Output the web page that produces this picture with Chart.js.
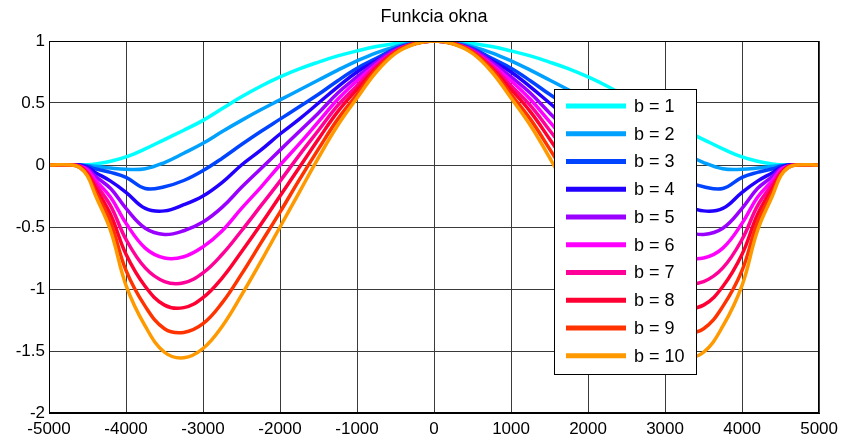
<!DOCTYPE html>
<html>
<head>
<meta charset="utf-8">
<script src="https://cdn.jsdelivr.net/npm/chart.js@4.4.0/dist/chart.umd.min.js"></script>
<style>
  html, body { margin: 0; padding: 0; background: #fff; }
  canvas { display: block; }
</style>
</head>
<body>
<canvas id="okno" width="844" height="443"></canvas>
<script>
// x positions of the read samples
var xValues = [-5000, -4700, -4600, -4500, -4400, -4200, -4000, -3750, -3500, -3250, -3000, -2750, -2500, -2250, -2000, -1750, -1500, -1250, -1000, -750, -500, -250, 0,
  250, 500, 750, 1000, 1250, 1500, 1750, 2000, 2250, 2500, 2750, 3000, 3250, 3500, 3750, 4000, 4200, 4400, 4500, 4600, 4700, 5000];

// values, one array per curve
var b1 = [0, 0, 0, 0.002, 0.008, 0.03, 0.065, 0.13, 0.205, 0.28, 0.36, 0.455, 0.55, 0.635, 0.71, 0.775, 0.83, 0.88, 0.92, 0.955, 0.98, 0.995, 1,
  0.995, 0.98, 0.955, 0.92, 0.88, 0.83, 0.775, 0.71, 0.635, 0.55, 0.455, 0.36, 0.28, 0.205, 0.13, 0.065, 0.03, 0.008, 0.002, 0, 0, 0];
var b2 = [0, 0, 0, -0.003, -0.01, -0.025, -0.035, -0.03, 0.02, 0.095, 0.175, 0.27, 0.36, 0.445, 0.525, 0.605, 0.685, 0.765, 0.84, 0.905, 0.955, 0.99, 1,
  0.99, 0.955, 0.905, 0.84, 0.765, 0.685, 0.605, 0.525, 0.445, 0.36, 0.27, 0.175, 0.095, 0.02, -0.03, -0.035, -0.025, -0.01, -0.003, 0, 0, 0];
var b3 = [0, 0, 0, -0.01, -0.03, -0.06, -0.10, -0.19, -0.175, -0.125, -0.045, 0.055, 0.165, 0.27, 0.37, 0.47, 0.57, 0.68, 0.78, 0.86, 0.94, 0.985, 1,
  0.985, 0.94, 0.86, 0.78, 0.68, 0.57, 0.47, 0.37, 0.27, 0.165, 0.055, -0.045, -0.125, -0.175, -0.19, -0.10, -0.06, -0.03, -0.01, 0, 0, 0];
var b4 = [0, 0, 0, -0.02, -0.06, -0.13, -0.22, -0.35, -0.37, -0.32, -0.25, -0.14, 0.0, 0.12, 0.25, 0.37, 0.50, 0.63, 0.75, 0.84, 0.93, 0.98, 1,
  0.98, 0.93, 0.84, 0.75, 0.63, 0.50, 0.37, 0.25, 0.12, 0.0, -0.14, -0.25, -0.32, -0.37, -0.35, -0.22, -0.13, -0.06, -0.02, 0, 0, 0];
var b5 = [0, 0, -0.01, -0.03, -0.09, -0.19, -0.35, -0.51, -0.56, -0.53, -0.46, -0.34, -0.18, -0.03, 0.12, 0.27, 0.42, 0.58, 0.71, 0.83, 0.93, 0.98, 1,
  0.98, 0.93, 0.83, 0.71, 0.58, 0.42, 0.27, 0.12, -0.03, -0.18, -0.34, -0.46, -0.53, -0.56, -0.51, -0.35, -0.19, -0.09, -0.03, -0.01, 0, 0];
var b6 = [0, 0, -0.01, -0.04, -0.12, -0.26, -0.47, -0.67, -0.75, -0.74, -0.66, -0.53, -0.35, -0.18, 0.0, 0.17, 0.35, 0.53, 0.68, 0.81, 0.92, 0.98, 1,
  0.98, 0.92, 0.81, 0.68, 0.53, 0.35, 0.17, 0.0, -0.18, -0.35, -0.53, -0.66, -0.74, -0.75, -0.67, -0.47, -0.26, -0.12, -0.04, -0.01, 0, 0];
var b7 = [0, 0, -0.01, -0.06, -0.15, -0.33, -0.60, -0.83, -0.94, -0.95, -0.87, -0.72, -0.53, -0.33, -0.13, 0.08, 0.28, 0.48, 0.64, 0.80, 0.92, 0.98, 1,
  0.98, 0.92, 0.80, 0.64, 0.48, 0.28, 0.08, -0.13, -0.33, -0.53, -0.72, -0.87, -0.95, -0.94, -0.83, -0.60, -0.33, -0.15, -0.06, -0.01, 0, 0];
var b8 = [0, 0, -0.01, -0.07, -0.18, -0.40, -0.72, -0.98, -1.13, -1.15, -1.07, -0.91, -0.70, -0.48, -0.25, -0.02, 0.21, 0.43, 0.61, 0.78, 0.91, 0.98, 1,
  0.98, 0.91, 0.78, 0.61, 0.43, 0.21, -0.02, -0.25, -0.48, -0.70, -0.91, -1.07, -1.15, -1.13, -0.98, -0.72, -0.40, -0.18, -0.07, -0.01, 0, 0];
var b9 = [0, 0, -0.02, -0.08, -0.21, -0.46, -0.85, -1.14, -1.32, -1.35, -1.28, -1.11, -0.88, -0.63, -0.38, -0.12, 0.13, 0.37, 0.57, 0.77, 0.91, 0.98, 1,
  0.98, 0.91, 0.77, 0.57, 0.37, 0.13, -0.12, -0.38, -0.63, -0.88, -1.11, -1.28, -1.35, -1.32, -1.14, -0.85, -0.46, -0.21, -0.08, -0.02, 0, 0];
var b10 = [0, 0, -0.02, -0.09, -0.24, -0.53, -0.97, -1.30, -1.51, -1.555, -1.48, -1.30, -1.05, -0.78, -0.50, -0.22, 0.06, 0.32, 0.54, 0.75, 0.90, 0.975, 1,
  0.975, 0.90, 0.75, 0.54, 0.32, 0.06, -0.22, -0.50, -0.78, -1.05, -1.30, -1.48, -1.555, -1.51, -1.30, -0.97, -0.53, -0.24, -0.09, -0.02, 0, 0];

var series = [b1, b2, b3, b4, b5, b6, b7, b8, b9, b10];
var seriesLabels = ['b = 1', 'b = 2', 'b = 3', 'b = 4', 'b = 5', 'b = 6', 'b = 7', 'b = 8', 'b = 9', 'b = 10'];
var seriesColors = ['#00ffff', '#00a0ff', '#0044ff', '#2200ff', '#9900ff', '#ff00ff', '#ff0099', '#ff0033', '#ff3300', '#ff9900'];

var titleText = 'Funkcia okna';
var fontFamily = '"Liberation Sans", Arial, Helvetica, sans-serif';

// ramka, nadpis a legenda (legenda je vo vnutri grafu)
var framePlugin = {
  id: 'framePlugin',
  afterDraw: function (chart) {
    var ctx = chart.ctx;
    var area = chart.chartArea;
    ctx.save();

    ctx.strokeStyle = '#000';
    ctx.lineWidth = 1;
    ctx.strokeRect(Math.round(area.left) + 0.5, Math.round(area.top) + 0.5,
      Math.round(area.right - area.left) - 1, Math.round(area.bottom - area.top) - 1);

    ctx.fillStyle = '#000';
    ctx.font = '18px ' + fontFamily;
    ctx.textAlign = 'center';
    ctx.textBaseline = 'middle';
    ctx.fillText(titleText, (area.left + area.right) / 2, 17);

    // legenda
    var lx = 554.5, ly = 89.5, lw = 142, lh = 285;
    ctx.fillStyle = '#fff';
    ctx.fillRect(lx, ly, lw, lh);
    ctx.strokeStyle = '#000';
    ctx.strokeRect(lx, ly, lw, lh);
    ctx.font = '18px ' + fontFamily;
    ctx.textAlign = 'left';
    for (var i = 0; i < seriesLabels.length; i++) {
      var yy = 106 + i * 27.75;
      ctx.strokeStyle = seriesColors[i];
      ctx.lineWidth = 5;
      ctx.beginPath();
      ctx.moveTo(566, yy);
      ctx.lineTo(626, yy);
      ctx.stroke();
      ctx.fillStyle = '#000';
      ctx.fillText(seriesLabels[i], 634, yy + 1);
    }
    ctx.restore();
  }
};

var datasets = series.map(function (vals, i) {
  return {
    label: seriesLabels[i],
    data: xValues.map(function (x, j) { return { x: x, y: vals[j] }; }),
    borderColor: seriesColors[i],
    backgroundColor: seriesColors[i],
    borderWidth: 3.5,
    pointRadius: 0,
    fill: false,
    tension: 0.4,
    order: 10 - i
  };
});

new Chart(document.getElementById('okno'), {
  type: 'line',
  data: { datasets: datasets },
  options: {
    responsive: false,
    animation: false,
    devicePixelRatio: 1,
    layout: { padding: { top: 41, right: 23, bottom: 0, left: 0 } },
    plugins: {
      legend: { display: false },
      title: { display: false },
      tooltip: { enabled: false }
    },
    scales: {
      x: {
        type: 'linear',
        min: -5000,
        max: 5000,
        afterFit: function (s) { s.height = 30; },
        ticks: {
          stepSize: 1000,
          color: '#000',
          padding: 6,
          maxRotation: 0,
          font: { size: 17, family: fontFamily },
          callback: function (v) { return String(v); }
        },
        grid: { color: '#3a3a3a', lineWidth: 1, drawTicks: false },
        border: { display: true, color: '#000' }
      },
      y: {
        type: 'linear',
        min: -2,
        max: 1,
        afterFit: function (s) { s.width = 49; },
        ticks: {
          stepSize: 0.5,
          color: '#000',
          padding: 4,
          font: { size: 17, family: fontFamily },
          callback: function (v) { return String(v); }
        },
        grid: { color: '#3a3a3a', lineWidth: 1, drawTicks: false },
        border: { display: true, color: '#000' }
      }
    }
  },
  plugins: [framePlugin]
});
</script>
</body>
</html>
